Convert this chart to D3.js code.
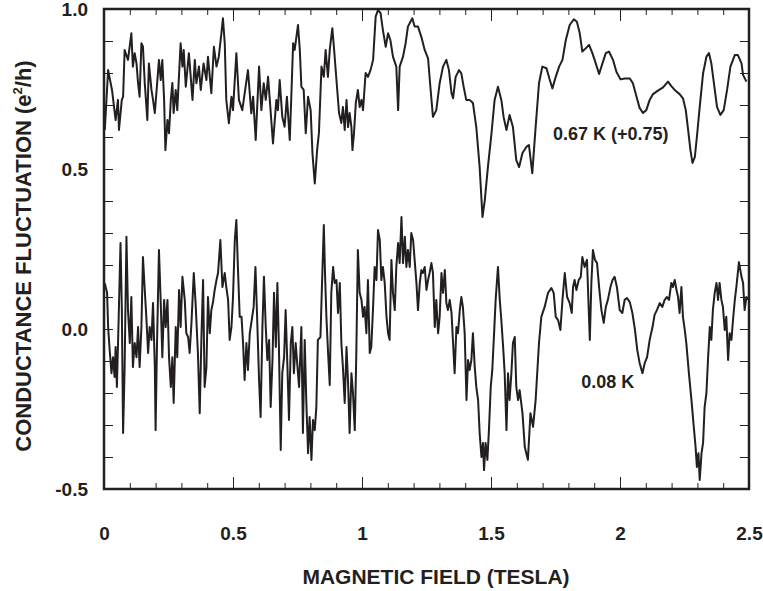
<!DOCTYPE html>
<html>
<head>
<meta charset="utf-8">
<script src="https://d3js.org/d3.v7.min.js"></script>
<style>
  body { margin: 0; background: #fff; }
  text { font-family: "Liberation Sans", Arial, sans-serif; font-weight: bold; fill: #231f20; }
</style>
</head>
<body>
<div id="chart"></div>
<script>
// 0.67 K trace (plotted with +0.75 offset)
const offsetHot = 0.75
const fieldHot = [
0.003,0.016,0.031,0.045,0.054,0.058,0.069,0.074,0.080,0.093,
0.106,0.112,0.119,0.126,0.132,0.138,0.145,0.151,0.158,0.168,
0.174,0.184,0.190,0.197,0.213,0.220,0.226,0.233,0.238,0.246,
0.252,0.259,0.265,0.270,0.278,0.284,0.297,0.304,0.309,0.317,
0.329,0.343,0.352,0.358,0.368,0.375,0.386,0.397,0.403,0.416,
0.426,0.436,0.445,0.455,0.461,0.468,0.474,0.484,0.494,0.500,
0.513,0.523,0.536,0.558,0.571,0.578,0.588,0.601,0.610,0.619,
0.627,0.636,0.655,0.668,0.674,0.681,0.691,0.700,0.709,0.720,
0.726,0.733,0.739,0.752,0.759,0.765,0.774,0.782,0.791,0.801,
0.808,0.817,0.826,0.833,0.843,0.852,0.859,0.868,0.875,0.885,
0.891,0.901,0.911,0.920,0.926,0.933,0.940,0.946,0.952,0.959,
0.963,0.969,0.976,0.984,0.991,0.998,1.004,1.014,1.023,1.033,
1.043,1.053,1.062,1.072,1.081,1.092,1.101,1.110,1.120,1.133,
1.140,1.146,1.159,1.169,1.178,1.195,1.204,1.217,1.230,1.243,
1.256,1.265,1.275,1.288,1.301,1.314,1.327,1.337,1.347,1.353,
1.363,1.376,1.385,1.394,1.404,1.417,1.430,1.443,1.456,1.467,
1.476,1.488,1.502,1.514,1.527,1.540,1.549,1.560,1.572,1.585,
1.598,1.609,1.622,1.637,1.647,1.660,1.673,1.686,1.699,1.715,
1.728,1.738,1.751,1.764,1.777,1.790,1.805,1.821,1.833,1.844,
1.854,1.867,1.880,1.893,1.906,1.919,1.932,1.945,1.957,1.973,
1.986,2.002,2.018,2.038,2.050,2.064,2.076,2.089,2.102,2.115,
2.128,2.147,2.167,2.186,2.199,2.212,2.231,2.244,2.255,2.264,
2.273,2.281,2.290,2.298,2.309,2.322,2.335,2.345,2.354,2.364,
2.376,2.389,2.402,2.415,2.428,2.445,2.457,2.471,2.477,2.490]
const condHot = [
-0.128,0.059,-0.003,-0.097,-0.034,-0.128,-0.034,-0.024,0.122,0.091,
0.174,0.070,0.112,0.080,0.018,-0.024,0.143,0.132,0.018,-0.097,
0.080,-0.003,-0.034,-0.075,0.091,0.028,0.091,-0.034,-0.191,-0.097,
-0.138,-0.034,0.019,-0.075,-0.003,-0.066,0.143,0.070,0.122,0.007,
0.112,-0.034,0.091,0.018,0.070,-0.003,0.080,0.028,0.101,-0.013,
0.132,0.070,0.101,0.174,0.221,0.143,-0.034,-0.107,-0.024,-0.066,
0.112,-0.034,-0.066,0.059,-0.076,-0.024,-0.159,0.070,-0.066,0.018,
-0.034,0.038,-0.170,-0.034,-0.066,0.028,-0.087,-0.118,-0.024,-0.159,
-0.024,0.143,0.122,0.200,0.122,0.007,-0.003,-0.138,-0.024,-0.066,
-0.201,-0.295,-0.191,-0.138,0.070,0.038,0.122,0.038,0.122,0.190,
0.132,0.028,-0.075,-0.106,-0.056,-0.128,-0.034,-0.119,-0.075,-0.119,
-0.191,-0.138,-0.044,-0.003,-0.056,-0.034,-0.066,0.050,0.038,0.059,
0.091,0.226,0.247,0.237,0.184,0.132,0.174,0.153,0.101,0.070,
-0.066,0.070,0.101,0.143,0.195,0.221,0.195,0.195,0.163,0.122,
0.096,0.007,-0.087,-0.066,0.018,0.070,0.091,0.059,-0.013,-0.029,
0.038,0.059,0.049,0.007,-0.034,-0.034,-0.044,-0.119,-0.244,-0.400,
-0.347,-0.244,-0.138,-0.034,0.007,-0.034,-0.088,-0.128,-0.081,-0.119,
-0.222,-0.244,-0.200,-0.181,-0.175,-0.263,-0.119,0.018,0.070,0.065,
0.028,0.002,0.038,0.070,0.091,0.153,0.200,0.218,0.210,0.174,
0.117,0.127,0.138,0.112,0.080,0.047,0.080,0.112,0.117,0.091,
0.054,0.030,0.033,0.033,0.018,-0.024,-0.059,-0.075,-0.066,-0.034,
-0.016,-0.005,0.005,0.023,0.009,-0.003,-0.016,-0.029,-0.066,-0.128,
-0.191,-0.231,-0.213,-0.150,-0.056,0.049,0.101,0.112,0.080,0.018,
-0.056,-0.081,-0.066,-0.003,0.070,0.106,0.106,0.080,0.044,0.023]

// 0.08 K trace
const fieldCold = [
0.003,0.012,0.016,0.022,0.029,0.035,0.041,0.045,0.050,0.057,
0.064,0.069,0.074,0.080,0.087,0.093,0.100,0.106,0.112,0.119,
0.126,0.132,0.138,0.145,0.151,0.158,0.164,0.171,0.177,0.184,
0.190,0.197,0.200,0.205,0.213,0.220,0.226,0.233,0.239,0.246,
0.252,0.259,0.265,0.270,0.278,0.284,0.291,0.297,0.304,0.313,
0.319,0.326,0.332,0.339,0.348,0.355,0.364,0.371,0.378,0.384,
0.390,0.397,0.403,0.410,0.416,0.422,0.429,0.436,0.442,0.451,
0.459,0.468,0.474,0.481,0.487,0.494,0.500,0.507,0.513,0.519,
0.526,0.533,0.539,0.545,0.552,0.558,0.565,0.571,0.580,0.587,
0.593,0.601,0.607,0.614,0.620,0.627,0.633,0.640,0.646,0.653,
0.659,0.666,0.672,0.678,0.685,0.691,0.698,0.704,0.711,0.717,
0.724,0.730,0.736,0.743,0.750,0.756,
0.765,0.771,0.778,0.784,0.791,0.797,0.804,0.810,0.817,0.823,
0.829,0.839,0.844,0.852,0.857,0.862,0.868,0.875,0.881,0.888,
0.894,0.901,0.907,0.914,0.920,0.926,0.933,0.940,0.946,0.952,
0.959,0.965,0.972,0.978,0.984,0.991,0.998,1.004,1.010,1.017,
1.023,1.030,1.036,1.043,1.049,1.056,1.062,1.069,1.075,1.081,
1.088,1.095,1.101,1.107,1.114,1.120,1.127,1.133,1.140,1.146,
1.153,1.159,1.166,1.172,1.178,1.185,1.191,1.198,1.204,1.211,
1.217,1.224,1.230,1.236,1.243,1.250,1.256,1.262,1.269,1.275,
1.282,1.288,1.295,1.301,1.308,1.314,1.321,1.327,1.333,1.340,
1.347,1.353,1.359,1.366,1.372,1.379,1.385,1.391,1.398,1.405,
1.411,1.417,1.424,1.430,1.437,1.443,1.450,1.456,1.463,1.469,
1.473,1.479,1.486,1.492,1.499,1.505,1.512,1.518,1.527,1.534,
1.540,1.547,1.553,1.560,1.566,1.572,1.579,1.585,1.592,1.598,
1.605,1.611,
1.622,1.631,1.643,1.653,1.663,1.673,1.686,1.695,1.708,1.721,
1.734,1.743,1.751,1.760,1.769,1.777,1.786,1.795,1.805,1.813,
1.818,1.824,1.831,1.840,1.848,1.854,1.863,1.872,1.883,1.889,
1.895,1.903,1.911,1.919,1.928,1.937,1.945,1.953,1.963,1.971,
1.979,1.988,1.999,2.009,2.018,2.027,2.038,2.048,2.058,2.067,
2.076,2.087,2.096,2.105,2.115,2.126,2.134,2.143,2.154,2.164,
2.173,2.182,2.190,2.199,2.205,2.212,2.219,2.225,2.231,2.238,
2.244,2.251,2.257,2.267,2.277,2.286,2.293,2.298,2.304,2.309,
2.316,2.322,2.328,2.335,2.341,2.348,2.354,2.360,2.367,2.374,
2.380,2.386,2.393,2.399,2.406,2.412,2.419,2.425,2.432,2.438,
2.445,2.451,2.461,2.471,2.477,2.483,2.490,2.495]
const condCold = [
0.143,0.113,0.006,-0.066,-0.138,-0.088,-0.150,-0.056,-0.181,0.038,
0.269,0.069,-0.325,-0.119,0.288,0.059,-0.044,0.100,-0.119,-0.044,
-0.088,0.006,-0.119,0.006,0.225,0.122,0.038,-0.075,0.006,-0.034,
0.081,-0.119,-0.316,-0.066,0.247,0.081,-0.088,0.091,0.006,0.091,
-0.088,-0.181,-0.088,-0.231,0.006,-0.088,0.122,0.006,0.163,0.091,
-0.013,-0.025,-0.075,0.019,0.175,0.081,-0.075,-0.263,-0.013,0.153,
-0.181,-0.119,0.100,-0.013,0.059,0.081,0.122,0.153,0.175,0.278,
0.131,0.175,0.131,0.091,-0.034,0.006,0.100,0.278,0.341,0.194,
0.038,0.038,-0.044,-0.159,-0.044,-0.128,-0.013,0.019,0.069,0.194,
0.050,-0.159,-0.275,0.006,0.163,0.006,-0.097,-0.034,-0.244,-0.097,
0.113,-0.056,0.144,-0.056,-0.378,-0.138,-0.088,0.059,-0.119,-0.284,
-0.044,0.006,-0.138,-0.044,-0.119,-0.181,
0.006,-0.325,-0.034,-0.222,-0.388,-0.275,-0.409,-0.284,-0.316,-0.244,
-0.034,-0.025,0.113,0.325,0.163,0.038,-0.066,-0.175,0.113,0.194,
0.144,0.153,0.050,0.144,-0.044,-0.119,-0.231,-0.056,-0.169,-0.325,
-0.138,-0.200,-0.316,-0.075,0.247,0.113,0.091,0.038,0.069,-0.013,
0.153,-0.075,-0.056,0.069,0.194,0.153,0.309,0.278,0.153,0.194,
0.144,0.038,-0.013,-0.034,0.216,0.113,0.059,0.194,0.269,0.206,
0.350,0.206,0.288,0.194,0.247,0.194,0.300,0.278,0.216,0.144,
0.059,0.144,0.184,0.175,0.194,0.122,0.153,0.175,0.206,0.175,
0.006,0.091,-0.013,0.038,0.175,0.113,0.184,0.081,0.059,0.091,
0.050,-0.044,-0.138,0.006,-0.013,0.059,0.100,0.069,-0.013,-0.222,
-0.097,-0.128,-0.097,-0.013,-0.119,-0.181,-0.222,-0.325,-0.400,-0.356,
-0.441,-0.356,-0.409,-0.316,-0.181,-0.128,-0.013,0.091,0.194,0.091,
0.028,-0.056,-0.138,-0.316,-0.138,-0.222,-0.138,-0.044,-0.025,-0.181,
-0.222,-0.191,
-0.263,-0.369,-0.409,-0.263,-0.306,-0.222,-0.044,0.038,0.069,0.113,
0.128,0.113,0.038,0.028,-0.003,0.091,0.175,0.100,0.081,0.050,
0.131,0.153,0.122,0.153,0.163,0.225,0.194,0.216,-0.034,0.144,
0.247,0.216,0.206,0.131,0.059,0.019,0.069,0.091,0.131,0.153,
0.163,0.131,0.059,0.050,0.091,0.097,0.084,0.050,-0.003,-0.066,
-0.106,-0.138,-0.106,-0.088,-0.034,0.006,0.044,0.059,0.081,0.069,
0.091,0.100,0.091,0.144,0.131,0.153,0.122,0.100,0.050,0.131,
0.038,-0.003,-0.044,-0.138,-0.222,-0.306,-0.369,-0.431,-0.388,-0.472,
-0.388,-0.356,-0.244,-0.200,-0.097,0.006,-0.034,0.059,0.113,0.144,
0.091,0.144,0.091,0.069,-0.003,0.038,-0.097,-0.013,-0.034,0.028,
0.091,0.131,0.209,0.163,0.144,0.059,0.100,0.091]

const xTicks = [0, 0.5, 1, 1.5, 2, 2.5]
const yTicks = [-0.5, 0, 0.5, 1.0]
const labelHot = "0.67 K (+0.75)"
const labelCold = "0.08 K"

const W = 763, H = 591
const margin = {left: 104, right: 14, top: 9, bottom: 102}
const pw = W - margin.left - margin.right
const ph = H - margin.top - margin.bottom

const svg = d3.select("#chart").append("svg")
  .attr("width", W).attr("height", H)

const g = svg.append("g").attr("transform", `translate(${margin.left},${margin.top})`)

const x = d3.scaleLinear().domain([0, 2.5]).range([0, pw])
const y = d3.scaleLinear().domain([-0.5, 1.0]).range([ph, 0])

svg.append("defs").append("clipPath").attr("id", "clip")
  .append("rect").attr("width", pw).attr("height", ph)

const ink = "#231f20"
const minorX = d3.range(0, 26).map(i => i / 10)
const minorY = d3.range(-5, 11).map(i => i / 10)

// minor ticks (every 0.1), inward, no labels
function plain(ax) {
  ax.select(".domain").remove()
  ax.selectAll("line").attr("stroke", ink).attr("stroke-width", 1)
}
g.append("g").attr("transform", `translate(0,${ph})`)
  .call(d3.axisBottom(x).tickValues(minorX).tickSize(-6).tickFormat(""))
  .call(plain)
g.append("g")
  .call(d3.axisTop(x).tickValues(minorX).tickSize(-6).tickFormat(""))
  .call(plain)
g.append("g")
  .call(d3.axisLeft(y).tickValues(minorY).tickSize(-9).tickFormat(""))
  .call(plain)
g.append("g").attr("transform", `translate(${pw},0)`)
  .call(d3.axisRight(y).tickValues(minorY).tickSize(-9).tickFormat(""))
  .call(plain)

// major ticks with labels
const xAx = g.append("g").attr("transform", `translate(0,${ph})`)
  .call(d3.axisBottom(x).tickValues(xTicks).tickSize(-12).tickPadding(38)
    .tickFormat(d => String(d)))
  .call(plain)
xAx.selectAll("text").style("font-size", "19px").attr("fill", ink)

g.append("g")
  .call(d3.axisTop(x).tickValues(xTicks).tickSize(-12).tickFormat(""))
  .call(plain)

const yAx = g.append("g")
  .call(d3.axisLeft(y).tickValues(yTicks).tickSize(-9).tickPadding(16)
    .tickFormat(d => d.toFixed(1)))
  .call(plain)
yAx.selectAll("text").style("font-size", "19px").attr("fill", ink)

// traces
const line = d3.line().x(d => x(d[0])).y(d => y(d[1]))
const hot = fieldHot.map((b, i) => [b, condHot[i] + offsetHot])
const cold = fieldCold.map((b, i) => [b, condCold[i]])

const traces = g.append("g").attr("clip-path", "url(#clip)")
traces.selectAll("path").data([hot, cold]).join("path")
  .attr("d", line)
  .attr("fill", "none")
  .attr("stroke", ink)
  .attr("stroke-width", 2)
  .attr("stroke-linejoin", "round")

// frame
g.append("rect").attr("width", pw).attr("height", ph)
  .attr("fill", "none").attr("stroke", ink).attr("stroke-width", 2.5)

// trace labels
g.append("text").attr("x", x(1.74)).attr("y", y(0.59))
  .style("font-size", "18px").text(labelHot)
g.append("text").attr("x", x(1.85)).attr("y", y(-0.185))
  .style("font-size", "18px").text(labelCold)

// axis titles
svg.append("text").attr("x", 436).attr("y", 584)
  .attr("text-anchor", "middle").style("font-size", "21px")
  .text("MAGNETIC FIELD (TESLA)")

const yt = svg.append("text")
  .attr("transform", `translate(31,256) rotate(-90)`)
  .attr("text-anchor", "middle").style("font-size", "22px")
yt.append("tspan").text("CONDUCTANCE FLUCTUATION (e")
yt.append("tspan").attr("dy", -9).style("font-size", "13px").text("2")
yt.append("tspan").attr("dy", 9).text("/h)")
</script>
</body>
</html>
